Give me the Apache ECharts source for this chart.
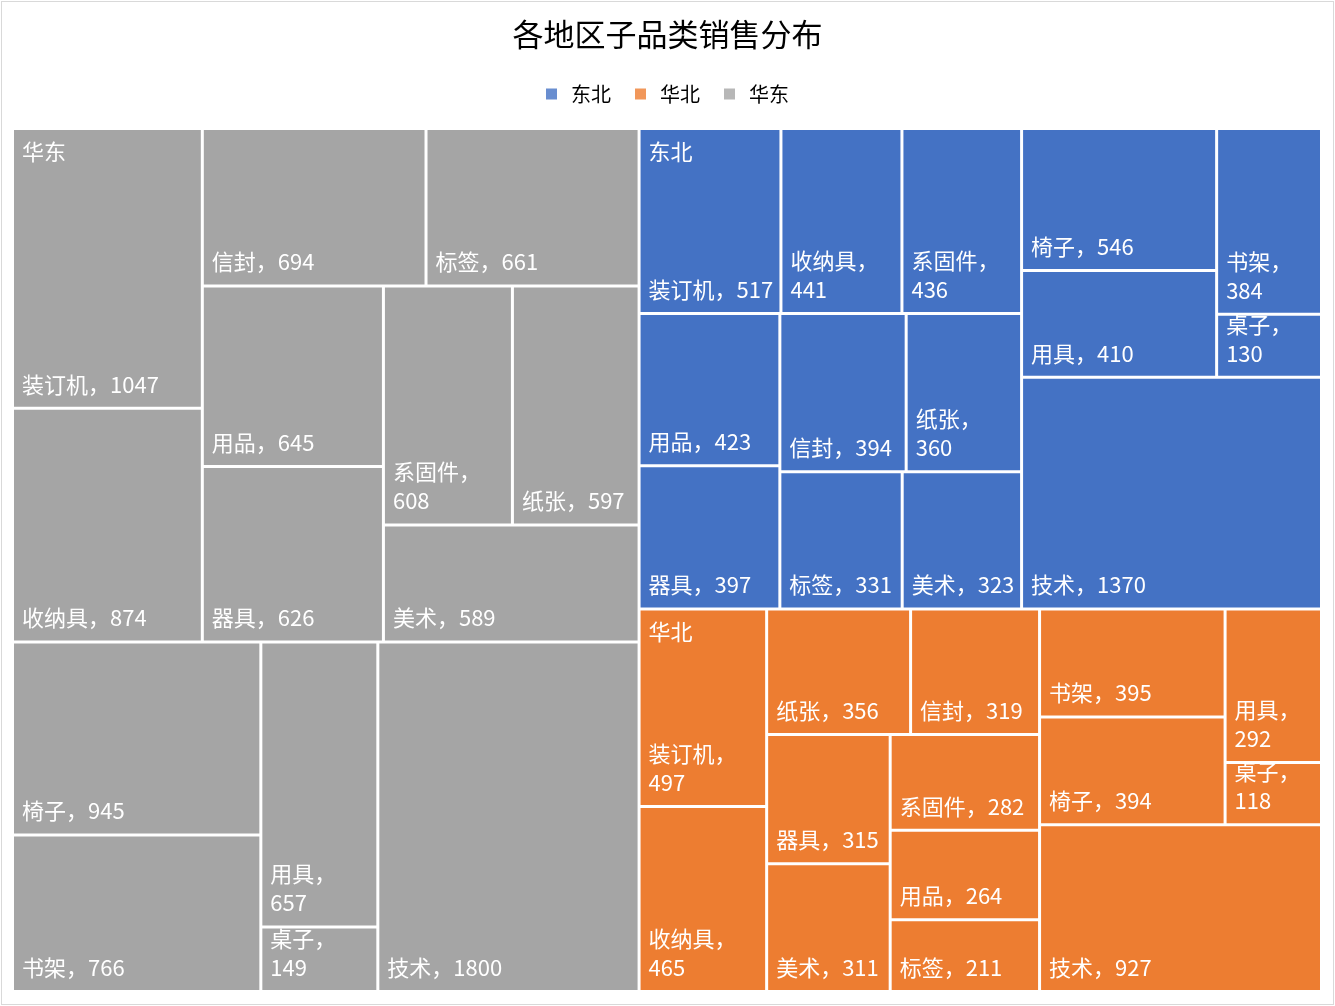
<!DOCTYPE html>
<html>
<head>
<meta charset="utf-8">
<title>各地区子品类销售分布</title>
<script src="https://cdn.jsdelivr.net/npm/echarts@6/dist/echarts.min.js"></script>
<style>
html, body { margin: 0; padding: 0; background: #fff; }
#frame { position: absolute; left: 1px; top: 1px; width: 1331px; height: 1002px; border: 1px solid #d9d9d9; }
#main { position: absolute; left: 0; top: 0; width: 1335px; height: 1006px; }
</style>
</head>
<body>
<div id="frame"></div>
<div id="main"></div>
<script>
// 数据：地区 > 大类 > 子品类
var regionNames = ['华东', '东北', '华北'];
var regionColors = ['#A5A5A5', '#4472C4', '#ED7D31'];
var groupNames = ['办公用品', '家具', '技术'];

var officeItems = ['装订机', '收纳具', '信封', '标签', '用品', '器具', '系固件', '纸张', '美术'];
var officeHuadong = [1047, 874, 694, 661, 645, 626, 608, 597, 589];
var officeDongbei = [517, 441, 394, 331, 423, 397, 436, 360, 323];
var officeHuabei = [497, 465, 319, 211, 264, 315, 282, 356, 311];

var furnItems = ['椅子', '书架', '用具', '桌子'];
var furnHuadong = [945, 766, 657, 149];
var furnDongbei = [546, 384, 410, 130];
var furnHuabei = [394, 395, 292, 118];

var techItems = ['技术'];
var techValues = [1800, 1370, 927];

var legendNames = ['东北', '华北', '华东'];

var officeByRegion = [officeHuadong, officeDongbei, officeHuabei];
var furnByRegion = [furnHuadong, furnDongbei, furnHuabei];

function leaves(names, values) {
    return names.map(function (n, i) {
        return { name: n, value: values[i] };
    });
}

// withColor=false 用于叠加层（只显示地区名）
function buildTree(withColor) {
    return regionNames.map(function (r, i) {
        var node = {
            name: r,
            children: [
                { name: groupNames[0], children: leaves(officeItems, officeByRegion[i]) },
                { name: groupNames[1], children: leaves(furnItems, furnByRegion[i]) },
                { name: groupNames[2], children: leaves(techItems, [techValues[i]]) }
            ]
        };
        if (withColor) node.itemStyle = { color: regionColors[i] };
        return node;
    });
}

function sumOf(list) {
    return list.reduce(function (s, d) { return s + d.value; }, 0);
}

// 每个地区左上角的第一个子块（最大大类中的最大子品类）
var firstLeaf = {};
buildTree(false).forEach(function (r) {
    var best = r.children[0];
    r.children.forEach(function (g) {
        if (sumOf(g.children) > sumOf(best.children)) best = g;
    });
    var top = best.children[0];
    best.children.forEach(function (d) { if (d.value > top.value) top = d; });
    firstLeaf[r.name] = best.name + '/' + top.name;
});

var myChart = echarts.init(document.getElementById('main'));

var labelFont = 'Noto Sans CJK SC';
var seriesBox = { left: 12.5, top: 128.5, width: 1309, height: 863 };

var option = {
    animation: false,
    title: {
        text: '各地区子品类销售分布',
        left: 'center',
        top: 14,
        textStyle: { fontSize: 31, fontWeight: 'normal', color: '#000', fontFamily: labelFont }
    },
    legend: {
        data: legendNames,
        top: 79,
        left: 'center',
        icon: 'rect',
        itemWidth: 11,
        itemHeight: 11,
        itemGap: 24,
        textStyle: { fontSize: 20, color: '#000', fontFamily: labelFont, padding: [0, 0, 0, 9] }
    },
    grid: { show: false, left: 0, top: 0, width: 1, height: 1 },
    xAxis: { show: false, type: 'value' },
    yAxis: { show: false, type: 'value' },
    series: [
        {
            type: 'treemap',
            name: '销售',
            left: seriesBox.left, top: seriesBox.top, width: seriesBox.width, height: seriesBox.height,
            squareRatio: 1,
            roam: false,
            nodeClick: false,
            breadcrumb: { show: false },
            data: buildTree(true),
            label: {
                show: true,
                position: 'insideBottomLeft',
                distance: 8,
                padding: [0, 12, 0, 0],
                color: '#fff',
                fontSize: 22,
                lineHeight: 29,
                fontFamily: labelFont,
                overflow: 'break',
                formatter: function (p) {
                    return p.name + '，' + p.value;
                }
            },
            upperLabel: { show: false },
            levels: [
                { itemStyle: { borderWidth: 0, gapWidth: 0 } },
                { itemStyle: { borderWidth: 0, gapWidth: 0 } },
                { itemStyle: { borderWidth: 0, gapWidth: 0 } },
                { itemStyle: { borderWidth: 1.5, borderColor: '#fff', gapWidth: 0 } }
            ]
        },
        {
            type: 'treemap',
            name: '地区',
            left: seriesBox.left, top: seriesBox.top, width: seriesBox.width, height: seriesBox.height,
            squareRatio: 1,
            roam: false,
            nodeClick: false,
            silent: true,
            breadcrumb: { show: false },
            data: buildTree(false),
            label: {
                show: true,
                position: 'insideTopLeft',
                distance: 8,
                padding: 0,
                color: '#fff',
                fontSize: 22,
                lineHeight: 27,
                fontFamily: labelFont,
                formatter: function (p) {
                    var path = p.treePathInfo || [];
                    if (path.length < 4) return '';
                    var region = path[1].name;
                    var key = path[2].name + '/' + path[3].name;
                    return firstLeaf[region] === key ? region : '';
                }
            },
            levels: [
                { itemStyle: { color: 'rgba(0,0,0,0)', borderWidth: 0, gapWidth: 0 } },
                { itemStyle: { color: 'rgba(0,0,0,0)', borderWidth: 0, gapWidth: 0 } },
                { itemStyle: { color: 'rgba(0,0,0,0)', borderWidth: 0, gapWidth: 0 } },
                { itemStyle: { color: 'rgba(0,0,0,0)', borderWidth: 1.5, borderColor: 'rgba(0,0,0,0)', gapWidth: 0 } }
            ]
        },
        { type: 'scatter', name: legendNames[0], data: [], itemStyle: { color: regionColors[1] } },
        { type: 'scatter', name: legendNames[1], data: [], itemStyle: { color: regionColors[2] } },
        { type: 'scatter', name: legendNames[2], data: [], itemStyle: { color: regionColors[0] } }
    ]
};

myChart.setOption(option);
</script>
</body>
</html>
